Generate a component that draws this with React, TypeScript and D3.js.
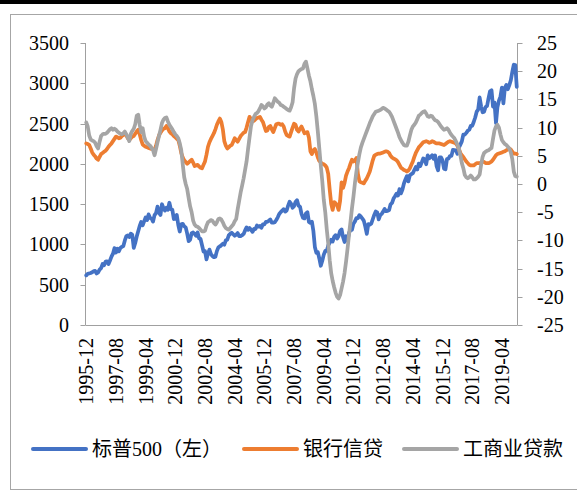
import React from 'react';
import * as d3 from 'd3';

// monthly categories 1995-12 .. 2020-02
const categories: string[] = d3
  .timeMonth.range(new Date(1995, 11, 1), new Date(2020, 2, 1))
  .map(d3.timeFormat('%Y-%m'));

const tickLabels = [
  '1995-12', '1997-08', '1999-04', '2000-12', '2002-08', '2004-04', '2005-12', '2007-08',
  '2009-04', '2010-12', '2012-08', '2014-04', '2015-12', '2017-08', '2019-04',
];

const leftTicks = [0, 500, 1000, 1500, 2000, 2500, 3000, 3500];
const rightTicks = [-25, -20, -15, -10, -5, 0, 5, 10, 15, 20, 25];

// S&P 500 (left axis)
const sp500 = [
  615.93,
  636.02, 640.43, 645.5, 654.17, 669.12, 670.63, 639.95, 651.99, 687.31, 705.27, 757.02, 740.74,
  786.16, 790.82, 757.12, 801.34, 848.28, 885.14, 954.29, 899.47, 947.28, 914.62, 955.4, 970.43,
  980.28, 1049.34, 1101.75, 1111.75, 1090.82, 1133.84, 1120.67, 957.28, 1017.01, 1098.67, 1163.63, 1229.23,
  1279.64, 1238.33, 1286.37, 1335.18, 1301.84, 1372.71, 1328.72, 1320.41, 1282.71, 1362.93, 1388.91, 1469.25,
  1394.46, 1366.42, 1498.58, 1452.43, 1420.6, 1454.6, 1430.83, 1517.68, 1436.51, 1429.4, 1314.95, 1320.28,
  1366.01, 1239.94, 1160.33, 1249.46, 1255.82, 1224.42, 1211.23, 1133.58, 1040.94, 1059.78, 1139.45, 1148.08,
  1130.2, 1106.73, 1147.39, 1076.92, 1067.14, 989.82, 911.62, 916.07, 815.28, 885.76, 936.31, 879.82,
  855.7, 841.15, 848.18, 916.92, 963.59, 974.5, 990.31, 1008.01, 995.97, 1050.71, 1058.2, 1111.92,
  1131.13, 1144.94, 1126.21, 1107.3, 1120.68, 1140.84, 1101.72, 1104.24, 1114.58, 1130.2, 1173.82, 1211.92,
  1181.27, 1203.6, 1180.59, 1156.85, 1191.5, 1191.33, 1234.18, 1220.33, 1228.81, 1207.01, 1249.48, 1248.29,
  1280.08, 1280.66, 1294.87, 1310.61, 1270.09, 1270.2, 1276.66, 1303.82, 1335.85, 1377.94, 1400.63, 1418.3,
  1438.24, 1406.82, 1420.86, 1482.37, 1530.62, 1503.35, 1455.27, 1473.99, 1526.75, 1549.38, 1481.14, 1468.36,
  1378.55, 1330.63, 1322.7, 1385.59, 1400.38, 1280.0, 1267.38, 1282.83, 1166.36, 968.75, 896.24, 903.25,
  825.88, 735.09, 797.87, 872.81, 919.14, 919.32, 987.48, 1020.62, 1057.08, 1036.19, 1095.63, 1115.1,
  1073.87, 1104.49, 1169.43, 1186.69, 1089.41, 1030.71, 1101.6, 1049.33, 1141.2, 1183.26, 1180.55, 1257.64,
  1286.12, 1327.22, 1325.83, 1363.61, 1345.2, 1320.64, 1292.28, 1218.89, 1131.42, 1253.3, 1246.96, 1257.6,
  1312.41, 1365.68, 1408.47, 1397.91, 1310.33, 1362.16, 1379.32, 1406.58, 1440.67, 1412.16, 1416.18, 1426.19,
  1498.11, 1514.68, 1569.19, 1597.57, 1630.74, 1606.28, 1685.73, 1632.97, 1681.55, 1756.54, 1805.81, 1848.36,
  1782.59, 1859.45, 1872.34, 1883.95, 1923.57, 1960.23, 1930.67, 2003.37, 1972.29, 2018.05, 2067.56, 2058.9,
  1994.99, 2104.5, 2067.89, 2085.51, 2107.39, 2063.11, 2103.84, 1972.18, 1920.03, 2079.36, 2080.41, 2043.94,
  1940.24, 1932.23, 2059.74, 2065.3, 2096.95, 2098.86, 2173.6, 2170.95, 2168.27, 2126.15, 2198.81, 2238.83,
  2278.87, 2363.64, 2362.72, 2384.2, 2411.8, 2423.41, 2470.3, 2471.65, 2519.36, 2575.26, 2647.58, 2673.61,
  2823.81, 2713.83, 2640.87, 2648.05, 2705.27, 2718.37, 2816.29, 2901.52, 2913.98, 2711.74, 2760.17, 2506.85,
  2704.1, 2784.49, 2834.4, 2945.83, 2752.06, 2941.76, 2980.38, 2926.46, 2976.74, 3037.56, 3140.98, 3230.78,
  3225.52, 2954.22,
];

// 银行信贷 YoY % (right axis)
const bankCredit = [
  7.2,
  7.1, 6.9, 6.3, 5.6, 5.2, 4.9, 4.5, 4.3, 4.8, 5.3, 5.5, 5.7,
  5.9, 6.2, 6.6, 6.9, 7.2, 7.6, 8.0, 8.4, 8.3, 8.1, 8.2, 8.5,
  8.7, 8.9, 8.6, 8.1, 7.8, 8.1, 8.4, 8.5, 8.9, 9.3, 9.6, 8.8,
  7.8, 7.0, 6.8, 6.6, 6.5, 6.4, 6.3, 6.2, 6.1, 6.0, 6.8, 7.8,
  8.6, 9.1, 9.5, 9.8, 9.9, 10.3, 9.9, 9.3, 9.0, 8.8, 8.5, 8.3,
  8.0, 7.8, 6.8, 5.5, 4.7, 4.2, 3.9, 3.6, 3.8, 4.1, 4.3, 3.8,
  3.2, 3.3, 3.4, 3.1, 2.9, 2.8, 3.4, 4.0, 5.2, 6.6, 7.4, 8.0,
  8.5, 9.0, 9.7, 10.5, 11.1, 11.6, 11.0, 9.7, 7.6, 6.8, 6.3, 6.5,
  6.8, 6.9, 7.5, 8.1, 7.8, 7.5, 8.0, 8.5, 8.8, 9.1, 9.2, 10.0,
  11.0, 11.9, 11.5, 11.1, 11.2, 11.5, 11.7, 11.8, 11.9, 11.4, 11.0, 10.2,
  9.4, 9.5, 10.1, 10.3, 9.7, 9.2, 9.9, 10.6, 10.7, 10.7, 10.5, 10.6,
  10.2, 9.3, 8.7, 8.5, 8.4, 9.2, 10.0, 10.7, 10.5, 9.6, 9.3, 9.8,
  10.2, 9.6, 9.0, 9.1, 9.2, 8.2, 5.8, 5.3, 6.0, 6.2, 5.6, 4.7,
  4.1, 3.8, 3.6, 3.5, 3.3, 2.9, 1.8, -1.0, -3.5, -4.6, -3.2, -3.4,
  -3.8, -4.6, -3.0, 0.3, -0.7, 0.2, 1.5, 2.2, 2.8, 3.6, 4.3, 4.0,
  4.2, 4.6, 1.8, 0.5, 0.3, 0.2, 0.1, 0.6, 1.0, 1.6, 2.2, 3.2,
  4.2, 5.0, 5.2, 5.3, 5.4, 5.4, 5.5, 5.6, 5.7, 5.8, 5.7, 5.5,
  5.0, 4.7, 4.5, 4.4, 4.2, 3.9, 3.4, 2.9, 2.7, 2.5, 2.4, 2.2,
  2.4, 2.8, 3.4, 4.0, 4.8, 5.5, 6.0, 6.5, 6.8, 7.1, 7.4, 7.5,
  7.6, 7.5, 7.3, 7.4, 7.6, 7.5, 7.3, 7.2, 7.2, 7.2, 7.1, 7.0,
  6.9, 7.1, 7.3, 7.5, 7.6, 7.5, 7.4, 7.3, 7.2, 6.8, 6.2, 5.5,
  5.1, 4.8, 4.4, 4.0, 3.7, 3.4, 3.3, 3.3, 3.3, 3.5, 3.7, 3.7,
  3.7, 3.8, 4.0, 3.9, 3.7, 3.7, 3.7, 3.8, 4.0, 4.3, 4.7, 5.1,
  5.3, 5.4, 5.5, 5.6, 5.7, 5.8, 6.0, 6.1, 6.3, 6.1, 5.7, 5.4,
  5.4, 5.3,
];

// 工商业贷款 YoY % (right axis)
const ciLoans = [
  10.9,
  10.2, 8.6, 7.9, 7.7, 7.6, 7.3, 6.7, 6.3, 7.5, 8.5, 8.8, 8.9,
  8.9, 9.1, 9.4, 9.7, 9.9, 9.6, 9.8, 9.6, 9.3, 9.1, 8.9, 8.8,
  9.0, 9.3, 8.8, 8.2, 7.6, 8.9, 9.4, 9.8, 10.6, 12.1, 12.3, 10.5,
  9.2, 9.9, 8.4, 7.6, 7.3, 7.0, 6.8, 6.4, 6.0, 5.1, 6.2, 7.4,
  8.5, 9.6, 10.8, 11.4, 11.7, 11.8, 11.1, 10.5, 10.1, 9.7, 9.2, 8.8,
  8.5, 8.1, 7.2, 6.0, 3.5, 1.2, 0.0, -0.9, -2.5, -4.0, -5.0, -6.5,
  -7.2, -7.5, -7.6, -7.8, -8.1, -8.4, -8.4, -8.3, -7.4, -6.8, -6.6, -6.4,
  -6.5, -6.9, -7.2, -6.8, -6.2, -6.1, -6.3, -6.8, -7.4, -7.8, -8.0, -8.1,
  -7.8, -7.5, -7.2, -6.6, -6.2, -4.5, -3.0, -1.5, -0.3, 1.0, 2.5, 4.0,
  6.2, 8.3, 10.3, 11.3, 11.9, 12.4, 12.6, 12.9, 13.4, 14.0, 13.8, 13.4,
  13.6, 14.1, 14.3, 13.9, 13.7, 14.4, 15.2, 14.9, 14.6, 14.4, 14.0, 13.9,
  13.7, 13.5, 13.3, 13.1, 13.0, 13.6, 14.5, 17.0, 18.7, 19.5, 20.0, 20.2,
  20.4, 20.5, 21.3, 21.7, 20.5, 19.2, 18.2, 16.8, 15.6, 14.2, 12.0, 9.3,
  6.3, 3.2, 0.5, -2.8, -5.0, -8.0, -10.5, -13.5, -15.8, -17.2, -18.3, -19.3,
  -20.0, -20.3, -19.7, -18.5, -17.3, -15.8, -13.8, -11.5, -9.0, -6.7, -4.3, -2.2,
  0.2, 2.2, 3.8, 5.3, 6.5, 7.3, 8.0, 8.7, 9.4, 10.1, 10.8, 11.4,
  12.0, 12.4, 12.8, 12.9, 13.0, 13.1, 13.3, 13.5, 13.4, 13.2, 13.0, 12.8,
  12.4, 11.9, 11.2, 10.5, 9.8, 9.1, 8.3, 7.8, 7.3, 6.9, 6.8, 6.8,
  7.5, 8.6, 9.6, 10.2, 10.5, 10.9, 11.5, 12.1, 12.3, 12.6, 12.8, 12.9,
  12.5, 12.0, 11.9, 12.1, 12.0, 11.6, 11.3, 11.2, 11.0, 10.6, 10.2, 9.9,
  9.6, 9.7, 9.9, 9.6, 9.1, 8.7, 8.4, 8.1, 7.6, 7.0, 6.3, 5.1,
  3.7, 2.8, 1.6, 1.2, 1.0, 1.2, 1.5, 1.2, 0.8, 0.8, 1.0, 1.3,
  1.7, 3.4, 4.8, 5.5, 5.7, 5.9, 6.0, 6.2, 6.4, 8.0, 9.5, 10.2,
  10.5, 10.0, 8.8, 7.8, 7.4, 7.1, 6.9, 6.6, 6.3, 5.6, 4.4, 2.2,
  1.4, 1.3,
];

const seriesNames = ['标普500（左）', '银行信贷', '工商业贷款'];
const seriesColors = ['#4472C4', '#ED7D31', '#A5A5A5'];

const W = 577;
const H = 495;
const M = { left: 85.5, right: 517.5, top: 43, bottom: 325 };
const AXIS = '#a0a0a0';
const SERIF = "'Liberation Serif', 'Times New Roman', Tinos, 'DejaVu Serif', serif";
const CJK = "'Liberation Serif', 'Times New Roman', 'Noto Sans CJK SC', serif";

const serifStyle = { fontFamily: SERIF, fontSize: '20px' };
const cjkStyle = { fontFamily: CJK, fontSize: '20px' };

export default function App() {
  const x = d3.scaleBand<string>().domain(categories).range([M.left, M.right]);
  const cx = (c: string) => (x(c) as number) + x.bandwidth() / 2;
  const yL = d3.scaleLinear().domain([0, 3500]).range([M.bottom, M.top]);
  const yR = d3.scaleLinear().domain([-25, 25]).range([M.bottom, M.top]);

  const lineL = d3
    .line<number>()
    .x((_, i) => cx(categories[i]))
    .y((d) => yL(d));
  const lineR = d3
    .line<number>()
    .x((_, i) => cx(categories[i]))
    .y((d) => yR(d));

  const paths = [lineL(sp500), lineR(bankCredit), lineR(ciLoans)];
  const legendX = [33, 244, 404];

  return (
    <svg
      width={W}
      height={H}
      style={{ position: 'absolute', left: 0, top: 0, background: '#fff' }}
    >
      <rect x={0} y={0} width={W} height={H} fill="#fff" />
      <rect x={0} y={0} width={W} height={4} fill="#000" />
      <rect x={10.5} y={14.5} width={W} height={475} fill="none" stroke="#a6a6a6" strokeWidth={1} />

      {/* axes */}
      <line x1={M.left} x2={M.left} y1={M.top} y2={M.bottom} stroke={AXIS} strokeWidth={1} />
      <line x1={M.right} x2={M.right} y1={M.top} y2={M.bottom} stroke={AXIS} strokeWidth={1} />
      <line x1={M.left} x2={M.right} y1={M.bottom + 0.5} y2={M.bottom + 0.5} stroke={AXIS} strokeWidth={1} />

      {leftTicks.map((t) => (
        <g key={'l' + t}>
          <line x1={M.left - 5} x2={M.left} y1={Math.round(yL(t)) + 0.5} y2={Math.round(yL(t)) + 0.5} stroke={AXIS} />
          <text
            x={69}
            y={yL(t)}
            textAnchor="end"
            dominantBaseline="central"
            style={serifStyle}
            fill="#000"
          >
            {t}
          </text>
        </g>
      ))}

      {rightTicks.map((t) => (
        <g key={'r' + t}>
          <line x1={M.right} x2={M.right + 5} y1={Math.round(yR(t)) + 0.5} y2={Math.round(yR(t)) + 0.5} stroke={AXIS} />
          <text
            x={537}
            y={yR(t)}
            textAnchor="start"
            dominantBaseline="central"
            style={serifStyle}
            fill="#000"
          >
            {t}
          </text>
        </g>
      ))}

      {tickLabels.map((lab) => (
        <text
          key={lab}
          transform={`translate(${cx(lab)},338) rotate(-90)`}
          textAnchor="end"
          dominantBaseline="central"
          style={serifStyle}
          fill="#000"
        >
          {lab}
        </text>
      ))}

      {/* series */}
      {paths.map((p, k) => (
        <path
          key={'s' + k}
          d={p || ''}
          fill="none"
          stroke={seriesColors[k]}
          strokeWidth={3.75}
          strokeLinejoin="round"
          strokeLinecap="round"
        />
      ))}

      {/* legend */}
      {seriesNames.map((n, k) => (
        <g key={'lg' + k}>
          <line
            x1={legendX[k]}
            x2={legendX[k] + 53}
            y1={449}
            y2={449}
            stroke={seriesColors[k]}
            strokeWidth={4}
            strokeLinecap="round"
          />
          <text
            x={legendX[k] + 59}
            y={449}
            dominantBaseline="central"
            style={cjkStyle}
            fill="#000"
          >
            {n}
          </text>
        </g>
      ))}
    </svg>
  );
}
